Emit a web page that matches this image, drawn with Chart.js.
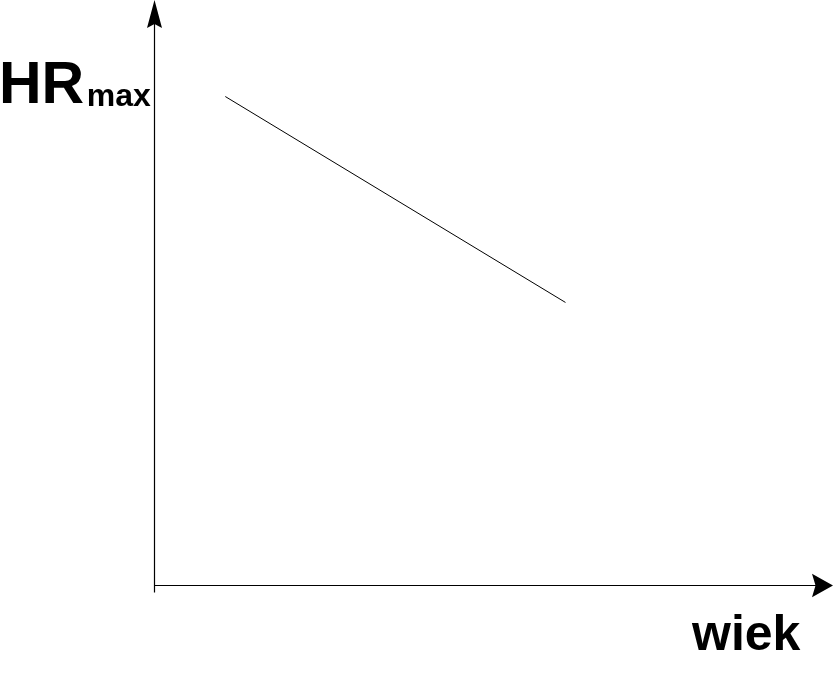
<!DOCTYPE html>
<html lang="pl">
<head>
    <meta charset="UTF-8">
    <title>HRmax a wiek</title>
    <script src="https://cdn.jsdelivr.net/npm/chart.js"></script>
    <style>
        html, body {
            margin: 0;
            padding: 0;
            background-color: white;
            overflow: hidden;
        }
        .chart-box {
            position: relative;
            width: 833px;
            height: 684px;
        }
    </style>
</head>
<body>
    <div class="chart-box">
        <canvas id="hrChart"></canvas>
    </div>

    <script>
        // values (no ticks shown, arbitrary units 0-100)
        const age = [10.5, 60.6];
        const hrMax = [83.5, 48.3];

        const yTitle = 'HR';
        const yTitleSub = 'max';
        const xTitle = 'wiek';

        const points = age.map((a, i) => ({ x: a, y: hrMax[i] }));

        // axes with arrow heads and the axis labels
        const axesPlugin = {
            id: 'arrowAxes',
            afterDraw(chart) {
                const c = chart.ctx;
                const area = chart.chartArea;
                const x0 = chart.scales.x.getPixelForValue(0) + 0.5;
                const y0 = chart.scales.y.getPixelForValue(0) + 0.5;
                c.save();
                c.strokeStyle = '#000';
                c.fillStyle = '#000';
                c.lineWidth = 1.2;

                // y axis
                c.beginPath();
                c.moveTo(x0, y0 + 7);
                c.lineTo(x0, area.top + 20);
                c.stroke();
                c.beginPath();
                c.moveTo(x0, area.top);
                c.lineTo(x0 + 7.5, area.top + 28);
                c.lineTo(x0, area.top + 24);
                c.lineTo(x0 - 7.5, area.top + 28);
                c.closePath();
                c.fill();

                // x axis
                c.beginPath();
                c.moveTo(x0 - 0.5, y0);
                c.lineTo(area.right - 15, y0);
                c.stroke();
                c.beginPath();
                c.moveTo(area.right, y0);
                c.lineTo(area.right - 21, y0 - 11.7);
                c.lineTo(area.right - 17.5, y0);
                c.lineTo(area.right - 21, y0 + 11.7);
                c.closePath();
                c.fill();

                // labels
                c.textBaseline = 'alphabetic';
                c.textAlign = 'left';
                c.font = 'bold 59px "Liberation Sans", Arial, sans-serif';
                c.fillText(yTitle, -1, 103);
                const w = c.measureText(yTitle).width;
                c.font = 'bold 32px "Liberation Sans", Arial, sans-serif';
                c.fillText(yTitleSub, w + 1.5, 106);

                c.font = 'bold 50px "Liberation Sans", Arial, sans-serif';
                c.fillText(xTitle, 692, 650);
                c.restore();
            }
        };

        const ctx = document.getElementById('hrChart').getContext('2d');
        const chart = new Chart(ctx, {
            type: 'line',
            data: {
                datasets: [{
                    data: points,
                    borderColor: '#000',
                    borderWidth: 1,
                    pointRadius: 0,
                    tension: 0
                }]
            },
            options: {
                responsive: true,
                maintainAspectRatio: false,
                animation: false,
                layout: {
                    padding: { left: 154, right: 0, top: 0, bottom: 99 }
                },
                plugins: {
                    legend: { display: false },
                    tooltip: { enabled: false }
                },
                scales: {
                    x: { type: 'linear', min: 0, max: 100, display: false },
                    y: { type: 'linear', min: 0, max: 100, display: false }
                }
            },
            plugins: [axesPlugin]
        });
    </script>
</body>
</html>
